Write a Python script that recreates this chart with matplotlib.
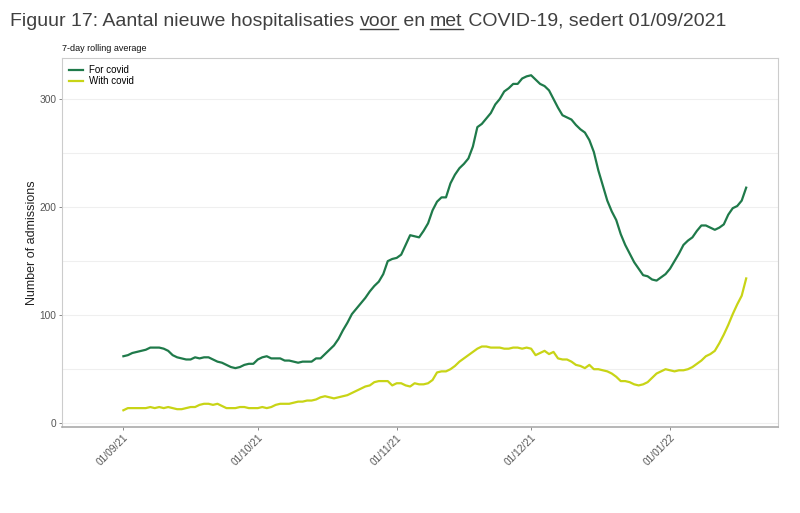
import numpy as np
import pandas as pd
import matplotlib
matplotlib.use("Agg")
import matplotlib.pyplot as plt
from matplotlib.lines import Line2D

plt.rcParams['font.family'] = ['Liberation Sans', 'DejaVu Sans']

# 7-day rolling averages, daily from 01/09/2021
for_covid = [62, 63, 65, 66, 67, 68, 70, 70, 70, 69,
             67, 63, 61, 60, 59, 59, 61, 60, 61, 61,
             59, 57, 56, 54, 52, 51, 52, 54, 55, 55,
             59, 61, 62, 60, 60, 60, 58, 58, 57, 56,
             57, 57, 57, 60, 60, 64, 68, 72, 78, 86,
             93, 101, 106, 111, 116, 122, 127, 131, 138, 150,
             152, 153, 156, 165, 174, 173, 172, 178, 185, 197,
             205, 209, 209, 222, 230, 236, 240, 245, 256, 274,
             277, 282, 287, 295, 300, 307, 310, 314, 314, 319,
             321, 322, 318, 314, 312, 308, 300, 292, 285, 283,
             281, 276, 272, 269, 262, 251, 234, 220, 206, 196,
             188, 175, 165, 157, 149, 143, 137, 136, 133, 132,
             135, 138, 143, 150, 157, 165, 169, 172, 178, 183,
             183, 181, 179, 181, 184, 193, 199, 201, 206, 218]
with_covid = [12, 14, 14, 14, 14, 14, 15, 14, 15, 14,
              15, 14, 13, 13, 14, 15, 15, 17, 18, 18,
              17, 18, 16, 14, 14, 14, 15, 15, 14, 14,
              14, 15, 14, 15, 17, 18, 18, 18, 19, 20,
              20, 21, 21, 22, 24, 25, 24, 23, 24, 25,
              26, 28, 30, 32, 34, 35, 38, 39, 39, 39,
              35, 37, 37, 35, 34, 37, 36, 36, 37, 40,
              47, 48, 48, 50, 53, 57, 60, 63, 66, 69,
              71, 71, 70, 70, 70, 69, 69, 70, 70, 69,
              70, 69, 63, 65, 67, 64, 66, 60, 59, 59,
              57, 54, 53, 51, 54, 50, 50, 49, 48, 46,
              43, 39, 39, 38, 36, 35, 36, 38, 42, 46,
              48, 50, 49, 48, 49, 49, 50, 52, 55, 58,
              62, 64, 67, 74, 82, 91, 101, 110, 118, 134]
tick_dates = ["2021-09-01", "2021-10-01", "2021-11-01", "2021-12-01", "2022-01-01"]
tick_labels = ["01/09/21", "01/10/21", "01/11/21", "01/12/21", "01/01/22"]
title_parts = [("Figuur 17: Aantal nieuwe hospitalisaties ", False), ("voor", True),
               (" en ", False), ("met", True), (" COVID-19, sedert 01/09/2021", False)]

dates = pd.date_range("2021-09-01", periods=len(for_covid), freq="D")
df = pd.DataFrame({"date": dates, "for": for_covid, "with": with_covid})

fig = plt.figure(figsize=(8, 5.13), dpi=100)
ax = fig.add_axes([0.0775, 0.1676, 0.895, 0.7194])

ax.plot(df["date"], df["for"], color="#1f7a4a", linewidth=1.6, label="For covid")
ax.plot(df["date"], df["with"], color="#c8d416", linewidth=1.6, label="With covid")

ax.set_xlim(pd.Timestamp("2021-09-01") - pd.Timedelta(days=13.7),
            pd.Timestamp("2021-09-01") + pd.Timedelta(days=146.1))
ax.set_ylim(-3.5, 338)

ax.set_yticks([0, 100, 200, 300])
ax.set_yticks([50, 150, 250], minor=True)
ax.set_xticks(pd.to_datetime(tick_dates))
ax.set_xticklabels(tick_labels, rotation=45, ha="right", va="top", rotation_mode="anchor")
ax.grid(axis="y", which="both", color="#efefef", linewidth=0.8)
ax.set_axisbelow(True)
ax.tick_params(axis="both", which="major", labelsize=7.3, colors="#777777", length=2.5, width=0.6)
ax.tick_params(axis="x", which="major", pad=1.5)
ax.tick_params(axis="y", which="major", pad=1.5)
ax.tick_params(axis="y", which="minor", length=0)
for lab in ax.get_xticklabels() + ax.get_yticklabels():
    lab.set_color("#555555")

for side in ["top", "right", "left"]:
    ax.spines[side].set_color("#cccccc")
    ax.spines[side].set_linewidth(0.8)
ax.spines["bottom"].set_color("#aaaaaa")
ax.spines["bottom"].set_linewidth(1.2)

ax.set_ylabel("Number of admissions", fontsize=9, color="#222222")
ax.yaxis.set_label_coords(-0.0335, 0.5)

leg = ax.legend(loc="upper left", frameon=False, fontsize=7, handlelength=1.45,
                handletextpad=0.6, labelspacing=0.1, borderaxespad=0.35)

fig.text(0.077, 0.897, "7-day rolling average", fontsize=6.5, color="#111111", va="bottom")

# title with underlined words, drawn piece by piece
renderer = fig.canvas.get_renderer()
x_px = 10
y_frac = 1 - 26 / 513
for txt, underline in title_parts:
    t = fig.text(x_px / 800, y_frac, txt, fontsize=14.0, color="#404040", va="baseline")
    bb = t.get_window_extent(renderer)
    if underline:
        y_line = y_frac - 3 / 513
        fig.add_artist(Line2D([bb.x0 / 800, bb.x1 / 800], [y_line, y_line],
                              color="#404040", linewidth=1.0))
    x_px = bb.x1

fig.savefig("out.png", dpi=100)
